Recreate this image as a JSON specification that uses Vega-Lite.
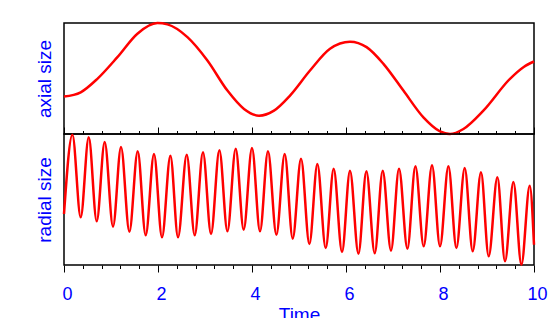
{
  "$schema": "https://vega.github.io/schema/vega-lite/v6.json",
  "padding": {"left": 34, "top": 17, "right": 0, "bottom": 0},
  "background": "white",
  "spacing": 0,
  "bounds": "flush",
  "config": {
    "view": {"stroke": "black", "strokeWidth": 1.5},
    "font": "Liberation Sans",
    "axis": {"titleColor": "blue", "labelColor": "blue", "titleFont": "Liberation Sans", "labelFont": "Liberation Sans", "titleFontWeight": "normal", "tickColor": "black", "tickWidth": 1, "domain": false, "grid": false},
    "concat": {"spacing": 0}
  },
  "datasets": {
    "axial": [
      {"t": 0, "v": 37.3}, {"t": 0.355, "v": 41.6}, {"t": 0.71, "v": 55}, {"t": 1.136, "v": 76.6}, {"t": 1.562, "v": 100},
      {"t": 1.987, "v": 110.6}, {"t": 2.2, "v": 109.3}, {"t": 2.626, "v": 96.6}, {"t": 3.051, "v": 73.3}, {"t": 3.477, "v": 43.3},
      {"t": 3.83, "v": 25}, {"t": 4.149, "v": 18.3}, {"t": 4.468, "v": 23.3}, {"t": 4.809, "v": 38.3}, {"t": 5.234, "v": 63.3},
      {"t": 5.66, "v": 85}, {"t": 6.085, "v": 92}, {"t": 6.438, "v": 86.6}, {"t": 6.796, "v": 70}, {"t": 7.221, "v": 43.3},
      {"t": 7.647, "v": 16.6}, {"t": 8.0, "v": 2.6}, {"t": 8.213, "v": 0}, {"t": 8.498, "v": 5}, {"t": 8.923, "v": 23.3},
      {"t": 9.489, "v": 55}, {"t": 9.774, "v": 66.6}, {"t": 10, "v": 72.3}
    ],
    "radial": [
      {"t": 0, "v": 51},
      {"t": 0.179, "v": 130.3}, {"t": 0.355, "v": 47.7}, {"t": 0.526, "v": 127.7}, {"t": 0.696, "v": 43.7},
      {"t": 0.866, "v": 123}, {"t": 1.043, "v": 38.3}, {"t": 1.213, "v": 118}, {"t": 1.391, "v": 33.3},
      {"t": 1.568, "v": 113.7}, {"t": 1.738, "v": 29.7}, {"t": 1.915, "v": 111}, {"t": 2.085, "v": 27.7},
      {"t": 2.264, "v": 109.3}, {"t": 2.426, "v": 27.7}, {"t": 2.611, "v": 110.3}, {"t": 2.781, "v": 29.7},
      {"t": 2.957, "v": 112.7}, {"t": 3.128, "v": 31}, {"t": 3.306, "v": 114.7}, {"t": 3.477, "v": 33.7},
      {"t": 3.653, "v": 116.3}, {"t": 3.823, "v": 35.3}, {"t": 4.0, "v": 117}, {"t": 4.17, "v": 33.7},
      {"t": 4.34, "v": 113.7}, {"t": 4.519, "v": 30.3}, {"t": 4.696, "v": 111}, {"t": 4.866, "v": 26.3},
      {"t": 5.043, "v": 106.3}, {"t": 5.221, "v": 21}, {"t": 5.391, "v": 101}, {"t": 5.568, "v": 17},
      {"t": 5.738, "v": 96.3}, {"t": 5.915, "v": 13}, {"t": 6.085, "v": 94.3}, {"t": 6.264, "v": 11.3},
      {"t": 6.434, "v": 93.7}, {"t": 6.611, "v": 11.7}, {"t": 6.781, "v": 94.3}, {"t": 6.957, "v": 14.3},
      {"t": 7.128, "v": 96.3}, {"t": 7.306, "v": 16.3}, {"t": 7.477, "v": 98.7}, {"t": 7.653, "v": 18.7},
      {"t": 7.83, "v": 99.7}, {"t": 8.0, "v": 18.7}, {"t": 8.179, "v": 98.7}, {"t": 8.349, "v": 17},
      {"t": 8.526, "v": 97}, {"t": 8.696, "v": 13.7}, {"t": 8.872, "v": 92.7}, {"t": 9.036, "v": 8.7},
      {"t": 9.221, "v": 87.7}, {"t": 9.383, "v": 3.7}, {"t": 9.562, "v": 83}, {"t": 9.732, "v": 0.3},
      {"t": 9.909, "v": 79.3}, {"t": 10, "v": 20.3}
    ]
  },
  "vconcat": [
    {
      "width": 470,
      "height": 111,
      "data": {"name": "axial"},
      "layer": [
        {
          "mark": {"type": "line", "color": "#ff0000", "strokeWidth": 2.5, "interpolate": "monotone"},
          "encoding": {
            "x": {"field": "t", "type": "quantitative", "scale": {"domain": [0, 10], "nice": false}, "axis": {"orient": "bottom", "values": [0, 2, 4, 6, 8, 10], "tickSize": -7, "labels": false, "title": null}},
            "y": {"field": "v", "type": "quantitative", "scale": {"domain": [0, 110.7], "nice": false, "zero": false}, "axis": {"title": "axial size", "ticks": false, "labels": false, "titleFontSize": 19, "titlePadding": 10}}
          }
        },
        {
          "mark": {"type": "line", "opacity": 0},
          "encoding": {
            "x": {"field": "t", "type": "quantitative", "axis": {"orient": "bottom", "values": [0.4, 0.8, 1.2, 1.6, 2.4, 2.8, 3.2, 3.6, 4.4, 4.8, 5.2, 5.6, 6.4, 6.8, 7.2, 7.6, 8.4, 8.8, 9.2, 9.6], "tickSize": -3.5, "labels": false, "title": null}},
            "y": {"field": "v", "type": "quantitative"}
          }
        }
      ],
      "resolve": {"axis": {"x": "independent"}}
    },
    {
      "width": 470,
      "height": 131,
      "data": {"name": "radial"},
      "layer": [
        {
          "mark": {"type": "line", "color": "#ff0000", "strokeWidth": 2.5, "interpolate": "monotone"},
          "encoding": {
            "x": {"field": "t", "type": "quantitative", "scale": {"domain": [0, 10], "nice": false}, "axis": {"orient": "bottom", "values": [0, 2, 4, 6, 8, 10], "tickSize": 7, "labelFontSize": 18, "labelPadding": 13, "labelFlush": false, "labelOffset": 3, "labelOverlap": false, "title": "Time", "titleFontSize": 19, "titlePadding": 2}},
            "y": {"field": "v", "type": "quantitative", "scale": {"domain": [0, 131], "nice": false, "zero": false}, "axis": {"title": "radial size", "ticks": false, "labels": false, "titleFontSize": 19, "titlePadding": 10}}
          }
        },
        {
          "mark": {"type": "line", "opacity": 0},
          "encoding": {
            "x": {"field": "t", "type": "quantitative", "axis": {"orient": "bottom", "values": [0.4, 0.8, 1.2, 1.6, 2.4, 2.8, 3.2, 3.6, 4.4, 4.8, 5.2, 5.6, 6.4, 6.8, 7.2, 7.6, 8.4, 8.8, 9.2, 9.6], "tickSize": 3.5, "labels": false, "title": null}},
            "y": {"field": "v", "type": "quantitative"}
          }
        }
      ],
      "resolve": {"axis": {"x": "independent"}}
    }
  ]
}
